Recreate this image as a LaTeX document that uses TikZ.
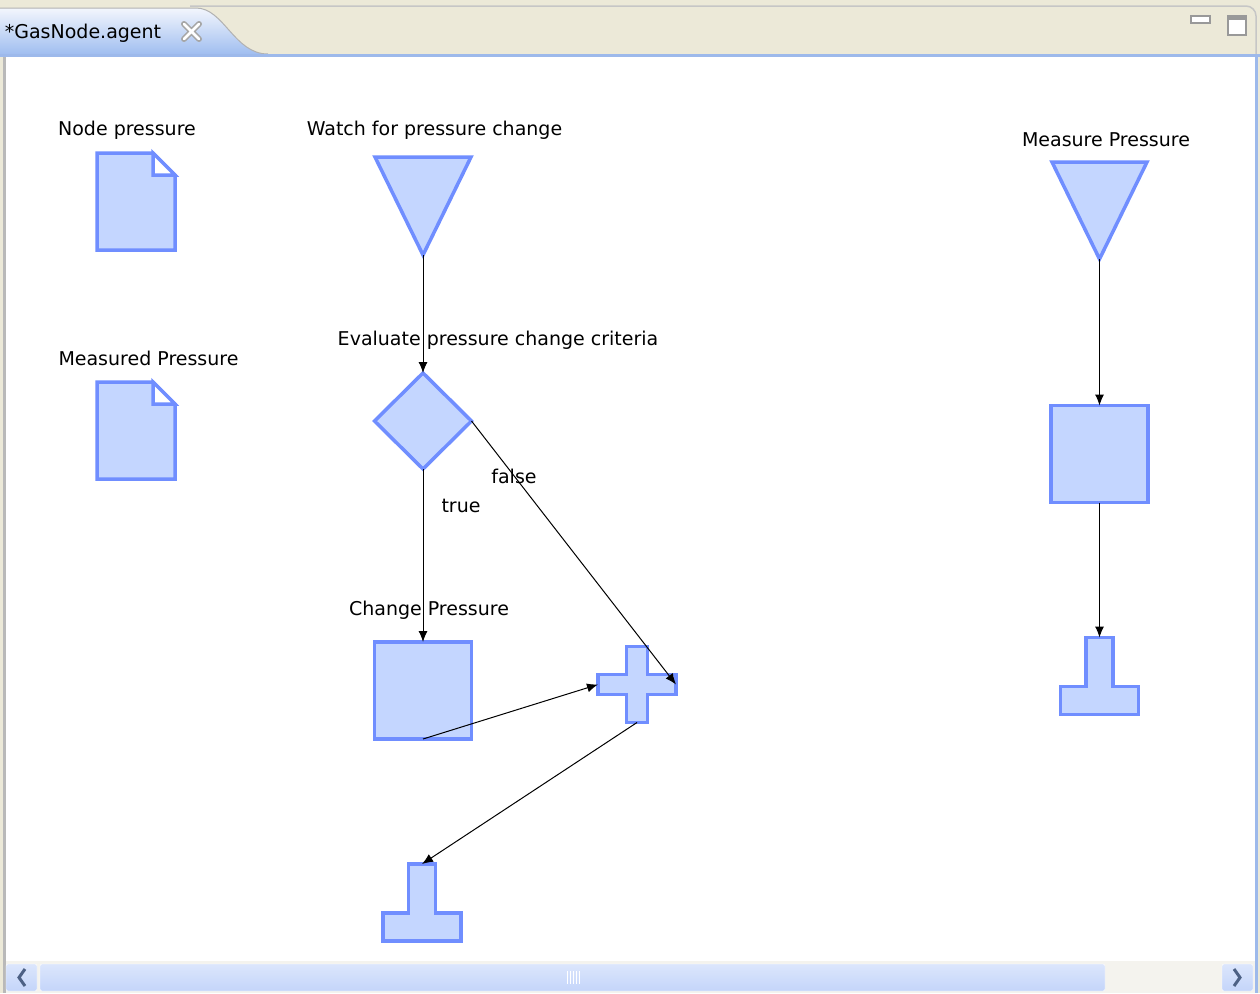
\documentclass[tikz,border=0pt]{standalone}
\usepackage{fontspec}
\setmainfont{DejaVu Sans}
\usetikzlibrary{arrows.meta,shapes.geometric}
\definecolor{shpfill}{RGB}{196,214,255}
\definecolor{shpline}{RGB}{112,142,255}
\definecolor{chrome}{RGB}{236,233,216}
\definecolor{tabtop}{RGB}{243,246,253}
\definecolor{tabbot}{RGB}{160,190,240}
\definecolor{frameblue}{RGB}{157,185,235}
\definecolor{sbback}{RGB}{244,243,238}
\definecolor{sbfill}{RGB}{196,213,250}
\definecolor{sbdark}{RGB}{77,97,133}
\begin{document}
\begin{tikzpicture}[x=1pt, y=-1pt,
    lbl/.style={inner sep=0pt, font=\fontsize{19}{22}\selectfont},
    plain/.style={inner sep=0pt, outer sep=0pt},
    shp/.style={draw=shpline, fill=shpfill, line width=3.5pt, line join=miter},
    act/.style={shp, plain, minimum width=97pt, minimum height=97pt},
    flow/.style={-{Latex[length=11pt,width=9pt]}, line width=1pt}]
  \useasboundingbox (0,0) rectangle (1260,993);
  % window
  \fill[chrome] (0,0) rectangle (1260,993);
  \draw[gray!45, line width=1.5pt, rounded corners=10pt] (190,6) -- (1256,6) -- (1256,56);
  \shade[top color=tabtop, bottom color=tabbot] (0,8) -- (196,8) .. controls (224,8) and (234,54) .. (268,54) -- (0,54) -- cycle;
  \draw[gray!60, line width=1pt] (0,8) -- (196,8) .. controls (224,8) and (234,54) .. (268,54);
  \fill[frameblue] (0,54) rectangle (1260,57);
  \fill[white] (5,57) rectangle (1255,961);
  \fill[gray!55] (3,57) rectangle (6,993);
  \fill[frameblue] (1255,54) rectangle (1258,993);
  \node (tab) [lbl] at (83,33) {*GasNode.agent};
  \draw[gray!70, line width=6pt, line cap=round] (184,24) -- (199,39) (199,24) -- (184,39);
  \draw[white, line width=2.8pt, line cap=round] (184,24) -- (199,39) (199,24) -- (184,39);
  \draw[gray!80, fill=white, line width=1.5pt] (1191,16) rectangle (1210,23);
  \draw[gray!80, fill=white, line width=1.5pt] (1228,16) rectangle (1246,35);
  \fill[gray!80] (1228,16) rectangle (1246,20);
  % scroll bar
  \fill[sbback] (6,961) rectangle (1255,993);
  \shade[top color=sbfill!60, bottom color=sbfill, draw=white, rounded corners=2pt] (6,964) rectangle (37,991);
  \shade[top color=sbfill!60, bottom color=sbfill, draw=white, rounded corners=2pt] (40,964) rectangle (1105,991);
  \shade[top color=sbfill!60, bottom color=sbfill, draw=white, rounded corners=2pt] (1222,964) rectangle (1253,991);
  \draw[sbdark, line width=3pt] (25,969) -- (19,977.5) -- (25,986);
  \draw[sbdark, line width=3pt] (1234,969) -- (1240,977.5) -- (1234,986);
  \foreach \gx in {567,570,573,576,579}
    \draw[white, line width=1pt] (\gx,971) -- (\gx,984);
  % data
  \node (np) [plain, minimum width=78pt, minimum height=97pt] at (136,201.5) {};
  \node (mp) [plain, minimum width=78pt, minimum height=97pt] at (136,430.5) {};
  \foreach \d in {np,mp} {
    \draw[shp] (\d.south west) -- (\d.north west) -- ([xshift=-22pt]\d.north east)
      -- ([yshift=-22pt]\d.north east) -- (\d.south east) -- cycle;
    \draw[shp, fill=white] ([xshift=-22pt]\d.north east) -- ([xshift=-22pt,yshift=-22pt]\d.north east)
      -- ([yshift=-22pt]\d.north east) -- cycle;
  }
  \node (nplbl) [lbl] at (127,130) {Node pressure};
  \node (mplbl) [lbl] at (148.5,358) {Measured Pressure};
  % first flow
  \node (watch) [plain, minimum width=96pt, minimum height=98pt] at (423,206) {};
  \draw[shp] (watch.north west) -- (watch.north east) -- (watch.south) -- cycle;
  \node (watchlbl) [lbl] at (434.5,130) {Watch for pressure change};
  \node (eval) [diamond, shp, plain, minimum width=97pt, minimum height=96pt] at (423,421) {};
  \node (evallbl) [lbl] at (498,340) {Evaluate pressure change criteria};
  \node (chg) [act] at (423,690.5) {};
  \node (chglbl) [lbl] at (429,610) {Change Pressure};
  \node (merge) [plain, minimum width=78pt, minimum height=76pt] at (637,684.5) {};
  \draw[shp, shift={(merge.center)}] (-10.5,-38) -- (10.5,-38) -- (10.5,-10) -- (39,-10) -- (39,10)
    -- (10.5,10) -- (10.5,38) -- (-10.5,38) -- (-10.5,10) -- (-39,10) -- (-39,-10) -- (-10.5,-10) -- cycle;
  \node (stop) [plain, minimum width=78pt, minimum height=77pt] at (422,902.5) {};
  % second flow
  \node (meas) [plain, minimum width=95pt, minimum height=97pt] at (1099.5,210.5) {};
  \draw[shp] (meas.north west) -- (meas.north east) -- (meas.south) -- cycle;
  \node (measlbl) [lbl] at (1106,140) {Measure Pressure};
  \node (measact) [act] at (1099.5,454) {};
  \node (stoptwo) [plain, minimum width=78pt, minimum height=77pt] at (1099.5,676) {};
  \foreach \s in {stop,stoptwo}
    \draw[shp, shift={(\s.center)}] (-13.5,-38.5) -- (13.5,-38.5) -- (13.5,10.5) -- (39,10.5)
      -- (39,38.5) -- (-39,38.5) -- (-39,10.5) -- (-13.5,10.5) -- cycle;
  % connectors
  \draw[flow] (watch.south) -- (eval.north);
  \draw[flow] (eval.south) -- (chg.north);
  \draw[flow] (eval.east) -- (merge.east);
  \draw[flow] (chg.south) -- (merge.west);
  \draw[flow] (merge.south) -- (stop.north);
  \draw[flow] (meas.south) -- (measact.north);
  \draw[flow] (measact.south) -- (stoptwo.north);
  \node (truelbl) [lbl] at (461,506) {true};
  \node (falselbl) [lbl] at (514,476) {false};
\end{tikzpicture}
\end{document}
